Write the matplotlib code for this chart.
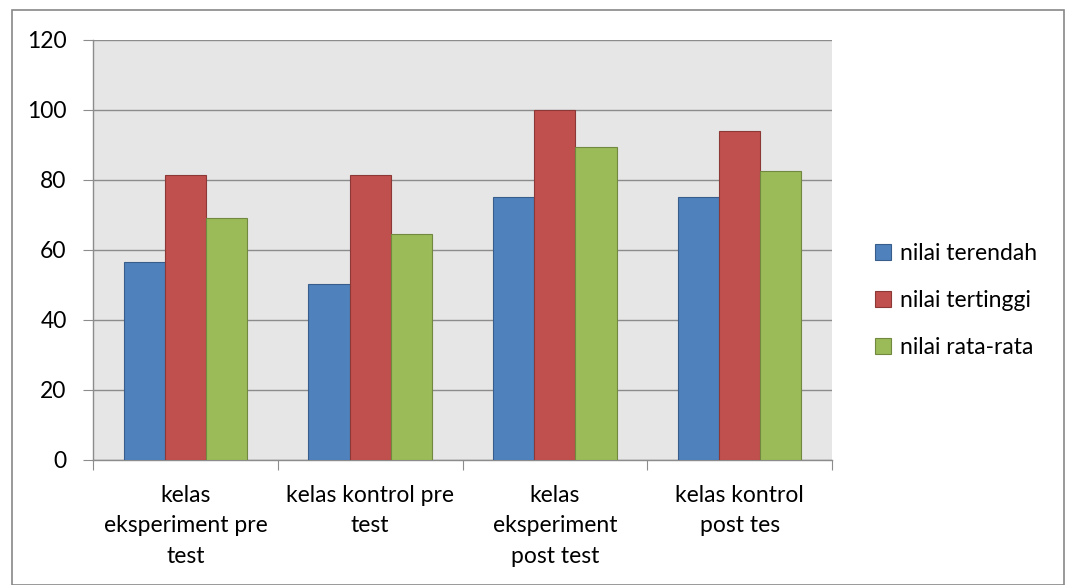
import numpy as np
import matplotlib.pyplot as plt
from matplotlib.patches import Rectangle

categories = ['kelas\neksperiment pre\ntest', 'kelas kontrol pre\ntest',
              'kelas\neksperiment\npost test', 'kelas kontrol\npost tes']
terendah = [56.5, 50.3, 75.2, 75.2]
tertinggi = [81.4, 81.4, 100, 94]
rata = [69.2, 64.6, 89.5, 82.5]
series_names = ['nilai terendah', 'nilai tertinggi', 'nilai rata-rata']
colors = ['#4f81bd', '#c0504d', '#9bbb59']
edges = ['#385d8a', '#8c3836', '#71893f']

plt.rcParams['font.family'] = ['Lato', 'DejaVu Sans']

fig = plt.figure(figsize=(10.74, 5.85), dpi=100)
fig.patches.append(Rectangle((12 / 1074, 0), 1052 / 1074, 575 / 585, transform=fig.transFigure,
                             fill=False, edgecolor='#888888', linewidth=1.2))
ax = fig.add_axes([93 / 1074, 1 - 460 / 585, 739 / 1074, 420 / 585])
ax.set_facecolor('#e6e6e6')

x = np.arange(len(categories)) + 0.5
w = 0.2225
for i, vals in enumerate([terendah, tertinggi, rata]):
    ax.bar(x + (i - 1) * w, vals, w, color=colors[i], edgecolor=edges[i],
           linewidth=0.8, label=series_names[i], zorder=3)

ax.set_xlim(0, 4)
ax.set_ylim(0, 120)
ax.set_yticks(range(0, 121, 20))
ax.yaxis.grid(True, color='#8c8c8c', linewidth=1.0, zorder=1)
ax.set_xticks([0, 1, 2, 3, 4])
ax.set_xticklabels([])
ax.set_xticks(x, minor=True)
ax.set_xticklabels(categories, minor=True, fontsize=16.5, linespacing=1.55)
ax.tick_params(axis='x', which='minor', length=0, pad=18)
ax.tick_params(axis='x', which='major', length=7, color='#8c8c8c', direction='out')
ax.tick_params(axis='y', length=7, color='#8c8c8c', labelsize=16.5, pad=12)
for s in ['top', 'right']:
    ax.spines[s].set_visible(False)
for s in ['left', 'bottom']:
    ax.spines[s].set_color('#8c8c8c')
    ax.spines[s].set_linewidth(1.0)

ax.legend(loc='center left', bbox_to_anchor=(1.03, 0.38), frameon=False,
          fontsize=16.5, handlelength=0.7, handleheight=0.7, handletextpad=0.4,
          labelspacing=1.15)

fig.savefig('out.png', dpi=100)
